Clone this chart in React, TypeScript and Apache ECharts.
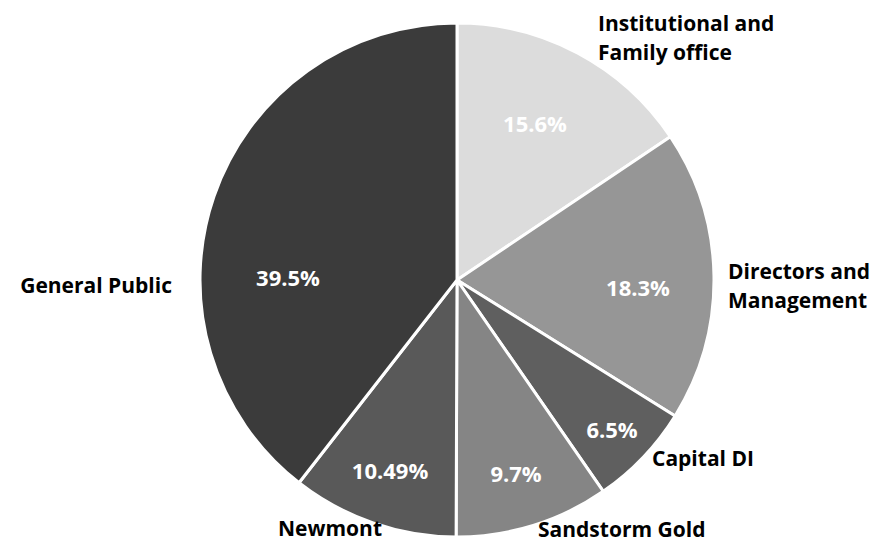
import React, { useEffect, useRef } from "react";
import * as echarts from "echarts";

const categories = [
  "Institutional and\nFamily office",
  "Directors and\nManagement",
  "Capital DI",
  "Sandstorm Gold",
  "Newmont",
  "General Public",
];
const values = [15.6, 18.3, 6.5, 9.7, 10.49, 39.5];
const colors = ["#dcdcdc", "#969696", "#5f5f5f", "#858585", "#595959", "#3b3b3b"];

// label placement (layout, not data)
const OUTER_POS = [
  { x: 598, y: 37, align: "left" },
  { x: 728, y: 285, align: "left" },
  { x: 652, y: 458, align: "left" },
  { x: 538, y: 529, align: "left" },
  { x: 278, y: 528, align: "left" },
  { x: 172, y: 285, align: "right" },
];
const INNER_POS = [
  { x: 535, y: 123 },
  { x: 638, y: 287 },
  { x: 612, y: 429 },
  { x: 516, y: 473 },
  { x: 390, y: 470 },
  { x: 288, y: 277 },
];

const FONT = "'Open Sans', Lato, sans-serif";

export default function App() {
  const ref = useRef<HTMLDivElement>(null);
  useEffect(() => {
    document.body.style.margin = "0";
    const chart = echarts.init(ref.current!, null, { renderer: "svg" });
    const data = categories.map((name, i) => ({
      name,
      value: values[i],
      itemStyle: { color: colors[i] },
      label: name.indexOf("\n") >= 0 ? { lineHeight: 29 } : { lineHeight: 22 },
    }));
    chart.setOption({
      animation: false,
      backgroundColor: "#ffffff",
      series: [
        {
          type: "pie",
          center: [457, 280],
          radius: [0, 257],
          startAngle: 90,
          clockwise: true,
          avoidLabelOverlap: false,
          silent: true,
          itemStyle: { borderColor: "#ffffff", borderWidth: 3 },
          label: {
            show: true,
            position: "outside",
            formatter: "{b}",
            fontFamily: FONT,
            fontWeight: "bold",
            fontSize: 21,
            lineHeight: 29,
            color: "#000000",
            overflow: "none",
          },
          labelLine: { show: false },
          labelLayout: (p: any) => {
            const o = OUTER_POS[p.dataIndex];
            return { x: o.x, y: o.y, align: o.align, verticalAlign: "middle" };
          },
          data,
        },
        {
          type: "pie",
          center: [457, 280],
          radius: [0, 257],
          startAngle: 90,
          clockwise: true,
          avoidLabelOverlap: false,
          silent: true,
          itemStyle: { color: "transparent", borderWidth: 0 },
          label: {
            show: true,
            position: "inside",
            formatter: "{c}%",
            fontFamily: FONT,
            fontWeight: "bold",
            fontSize: 22,
            color: "#ffffff",
            overflow: "none",
          },
          labelLine: { show: false },
          labelLayout: (p: any) => {
            const o = INNER_POS[p.dataIndex];
            return { x: o.x, y: o.y, align: "center", verticalAlign: "middle" };
          },
          data: categories.map((name, i) => ({
            name,
            value: values[i],
            itemStyle: { color: "transparent" },
          })),
        },
      ],
    });
    return () => chart.dispose();
  }, []);
  return <div ref={ref} style={{ width: 874, height: 544 }} />;
}
